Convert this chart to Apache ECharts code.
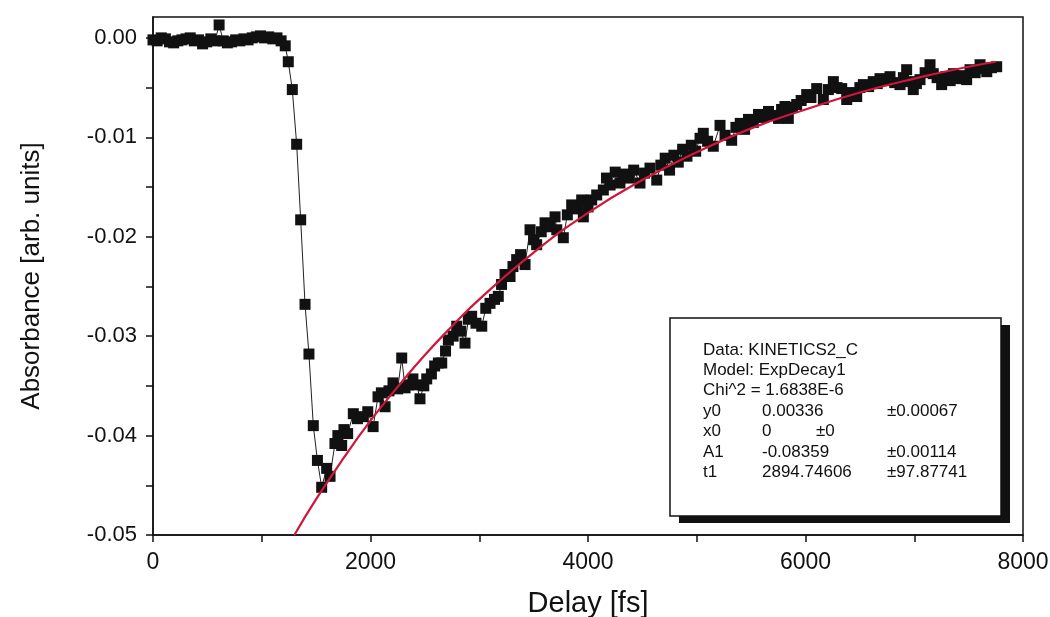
<!DOCTYPE html>
<html>
<head>
<meta charset="utf-8">
<script src="https://cdn.jsdelivr.net/npm/echarts@6/dist/echarts.min.js"></script>
<style>
html,body{margin:0;padding:0;background:#fff;}
#chart{width:1050px;height:617px;}
</style>
</head>
<body>
<div id="chart"></div>
<script>
// ---- data ----
const delays = [
  0,38,76,114,152,190,228,266,304,342,380,418,456,494,532,570,608,646,684,722,760,798,836,874,912,950,988,1026,1064,1102,1140,1178,1216,
  1244,1281,1321,1358,1398,1434,1474,1512,1551,1597,1628,1673,1700,1735,1756,1790,1842,1880,1934,1975,2024,
  2069,2100,2134,2170,2207,2250,2287,2318,2350,2390,2425,2455,2490,2517,2560,2590,2624,2655,2690,2716,2760,2793,2830,2869,2900,2930,2970,
  3023,3060,3099,3140,3175,3205,3237,3283,3310,3344,3380,3421,3467,3500,3528,3570,3605,3650,3697,3713,3773,3810,3850,3900,3942,3957,
  4000,4034,4080,4141,4170,4203,4250,4294,4330,4380,4420,4478,4520,4570,4632,4670,4710,4750,4790,4830,4870,4910,4950,4990,
  5030,5060,5100,5152,5214,5260,5321,5360,5400,5440,5476,5520,5568,5610,5660,5700,5752,5780,5811,5842,5880,5919,5960,
  6011,6050,6103,6164,6210,6256,6290,6333,6379,6420,6471,6500,6532,6580,6623,6660,6685,6730,6777,6820,6869,6900,6930,6960,6991,
  7020,7053,7100,7145,7175,7210,7252,7290,7330,7360,7400,7440,7482,7513,7560,7605,7640,7667,7710,7758
];
const absorbance = [
  -0.0002,-0.0003,0.0000,-0.0001,-0.0004,-0.0005,-0.0003,-0.0002,-0.0001,0.0000,-0.0003,-0.0002,-0.0006,-0.0004,-0.0001,-0.0003,0.0013,-0.0003,-0.0005,-0.0004,-0.0002,-0.0003,-0.0001,-0.0002,0.0000,0.0001,0.0002,0.0000,0.0001,-0.0001,0.0000,-0.0003,-0.0008,
  -0.0024,-0.0052,-0.0107,-0.0183,-0.0268,-0.0318,-0.0390,-0.0425,-0.0452,-0.0433,-0.0441,-0.0408,-0.0400,-0.0410,-0.0394,-0.0398,-0.0378,-0.0383,-0.0381,-0.0376,-0.0391,
  -0.0361,-0.0357,-0.0371,-0.0355,-0.0347,-0.0353,-0.0322,-0.0352,-0.0349,-0.0343,-0.0349,-0.0363,-0.0350,-0.0343,-0.0338,-0.0330,-0.0327,-0.0327,-0.0315,-0.0304,-0.0300,-0.0290,-0.0295,-0.0307,-0.0283,-0.0280,-0.0287,
  -0.0290,-0.0272,-0.0267,-0.0263,-0.0260,-0.0248,-0.0238,-0.0240,-0.0230,-0.0223,-0.0218,-0.0228,-0.0193,-0.0203,-0.0208,-0.0195,-0.0186,-0.0190,-0.0180,-0.0193,-0.0201,-0.0178,-0.0168,-0.0172,-0.0163,-0.0180,
  -0.0170,-0.0163,-0.0158,-0.0153,-0.0141,-0.0148,-0.0135,-0.0146,-0.0137,-0.0141,-0.0133,-0.0146,-0.0136,-0.0131,-0.0143,-0.0128,-0.0121,-0.0133,-0.0118,-0.0125,-0.0112,-0.0119,-0.0108,-0.0114,
  -0.0101,-0.0096,-0.0104,-0.0109,-0.0088,-0.0098,-0.0103,-0.0090,-0.0086,-0.0092,-0.0082,-0.0085,-0.0077,-0.0080,-0.0074,-0.0078,-0.0081,-0.0072,-0.0069,-0.0081,-0.0070,-0.0067,-0.0063,
  -0.0057,-0.0060,-0.0051,-0.0062,-0.0052,-0.0044,-0.0050,-0.0051,-0.0062,-0.0055,-0.0059,-0.0050,-0.0047,-0.0049,-0.0044,-0.0046,-0.0041,-0.0043,-0.0039,-0.0045,-0.0047,-0.0040,-0.0032,-0.0044,-0.0052,
  -0.0046,-0.0042,-0.0035,-0.0027,-0.0036,-0.0040,-0.0047,-0.0039,-0.0043,-0.0036,-0.0041,-0.0038,-0.0042,-0.0032,-0.0035,-0.0027,-0.0031,-0.0034,-0.0030,-0.0029
];
const fitDelays = [1300,1500,1750,2000,2250,2500,2750,3000,3500,4000,4500,5000,5500,6000,6500,7000,7500,7750];
const fitAbsorbance = [-0.0500,-0.0464,-0.0423,-0.0385,-0.0351,-0.0319,-0.0290,-0.0263,-0.0216,-0.0176,-0.0143,-0.0115,-0.0091,-0.0072,-0.0055,-0.0041,-0.0029,-0.0024];
const xTicks = [0,1000,2000,3000,4000,5000,6000,7000,8000];
const xLabels = [0,2000,4000,6000,8000];
const yTicks = [-0.05,-0.045,-0.04,-0.035,-0.03,-0.025,-0.02,-0.015,-0.01,-0.005,0];
const yLabels = [-0.05,-0.04,-0.03,-0.02,-0.01,0];
const xTitle = 'Delay [fs]';
const yTitle = 'Absorbance [arb. units]';
const fitHeader = ['Data: KINETICS2_C','Model: ExpDecay1','Chi^2 = 1.6838E-6'];
const fitParams = [
  ['y0','0.00336','±0.00067'],
  ['x0','0','±0'],
  ['A1','-0.08359','±0.00114'],
  ['t1','2894.74606','±97.87741']
];

// ---- chart ----
const chart = echarts.init(document.getElementById('chart'), null, {renderer:'canvas'});
const FONT = '"Liberation Sans", Arial, sans-serif';

const graphics = [];
const bx = 670, by = 318, bw = 331, bh = 198;
graphics.push({type:'rect', shape:{x:bx+9, y:by+7, width:bw, height:bh}, style:{fill:'#111'}, z:100});
graphics.push({type:'rect', shape:{x:bx, y:by, width:bw, height:bh}, style:{fill:'#fff', stroke:'#111', lineWidth:1.5}, z:101});
const lineY0 = 350, step = 20.4;
fitHeader.forEach((t,i)=>{
  graphics.push({type:'text', x:703, y:lineY0+i*step, z:102,
    style:{text:t, font:'17px '+FONT, fill:'#111', verticalAlign:'middle'}});
});
fitParams.forEach((row,i)=>{
  const y = lineY0+(i+3)*step;
  const xs = (row[0]==='x0') ? [703,762,816] : [703,762,887];
  row.forEach((t,j)=>{
    graphics.push({type:'text', x:xs[j], y:y, z:102,
      style:{text:t, font:'17px '+FONT, fill:'#111', verticalAlign:'middle'}});
  });
});

const option = {
  animation:false,
  backgroundColor:'#fff',
  grid:{left:153, right:27, top:17, bottom:82, outerBoundsMode:'none', containLabel:false,
        show:true, borderColor:'#111', borderWidth:1.5, backgroundColor:'transparent'},
  xAxis:{
    type:'value', min:0, max:8000, interval:1000,
    name:xTitle, nameLocation:'middle', nameGap:54,
    nameTextStyle:{fontFamily:FONT, fontSize:29, color:'#111'},
    axisLine:{show:true, onZero:false, lineStyle:{color:'#111', width:1.5}},
    axisTick:{show:true, inside:false, length:7, customValues:xTicks, lineStyle:{color:'#111', width:1.5}},
    axisLabel:{customValues:xLabels, fontFamily:FONT, fontSize:23, color:'#111', margin:16,
      formatter:(v)=> (v%2000===0 ? String(v) : '')},
    splitLine:{show:false}
  },
  yAxis:{
    type:'value', min:-0.05, max:0.0021, interval:0.005,
    name:yTitle, nameLocation:'middle', nameGap:108,
    nameTextStyle:{fontFamily:FONT, fontSize:26, color:'#111'},
    axisLine:{show:true, onZero:false, lineStyle:{color:'#111', width:1.5}},
    axisTick:{show:true, inside:false, length:7, customValues:yTicks, lineStyle:{color:'#111', width:1.5}},
    axisLabel:{customValues:yLabels, fontFamily:FONT, fontSize:22, color:'#111', margin:16,
      formatter:(v)=> v.toFixed(2)},
    splitLine:{show:false}
  },
  series:[
    {
      type:'line', name:'data',
      data: delays.map((d,i)=>[d, absorbance[i]]),
      symbol:'rect', symbolSize:11, showSymbol:true,
      lineStyle:{color:'#222', width:1},
      itemStyle:{color:'#111'},
      z:2, clip:true
    },
    {
      type:'line', name:'fit',
      data: fitDelays.map((d,i)=>[d, fitAbsorbance[i]]),
      smooth:true, symbol:'none',
      lineStyle:{color:'#d0163a', width:2.2},
      z:3, clip:true
    }
  ],
  graphic: graphics
};
chart.setOption(option);
</script>
</body>
</html>
